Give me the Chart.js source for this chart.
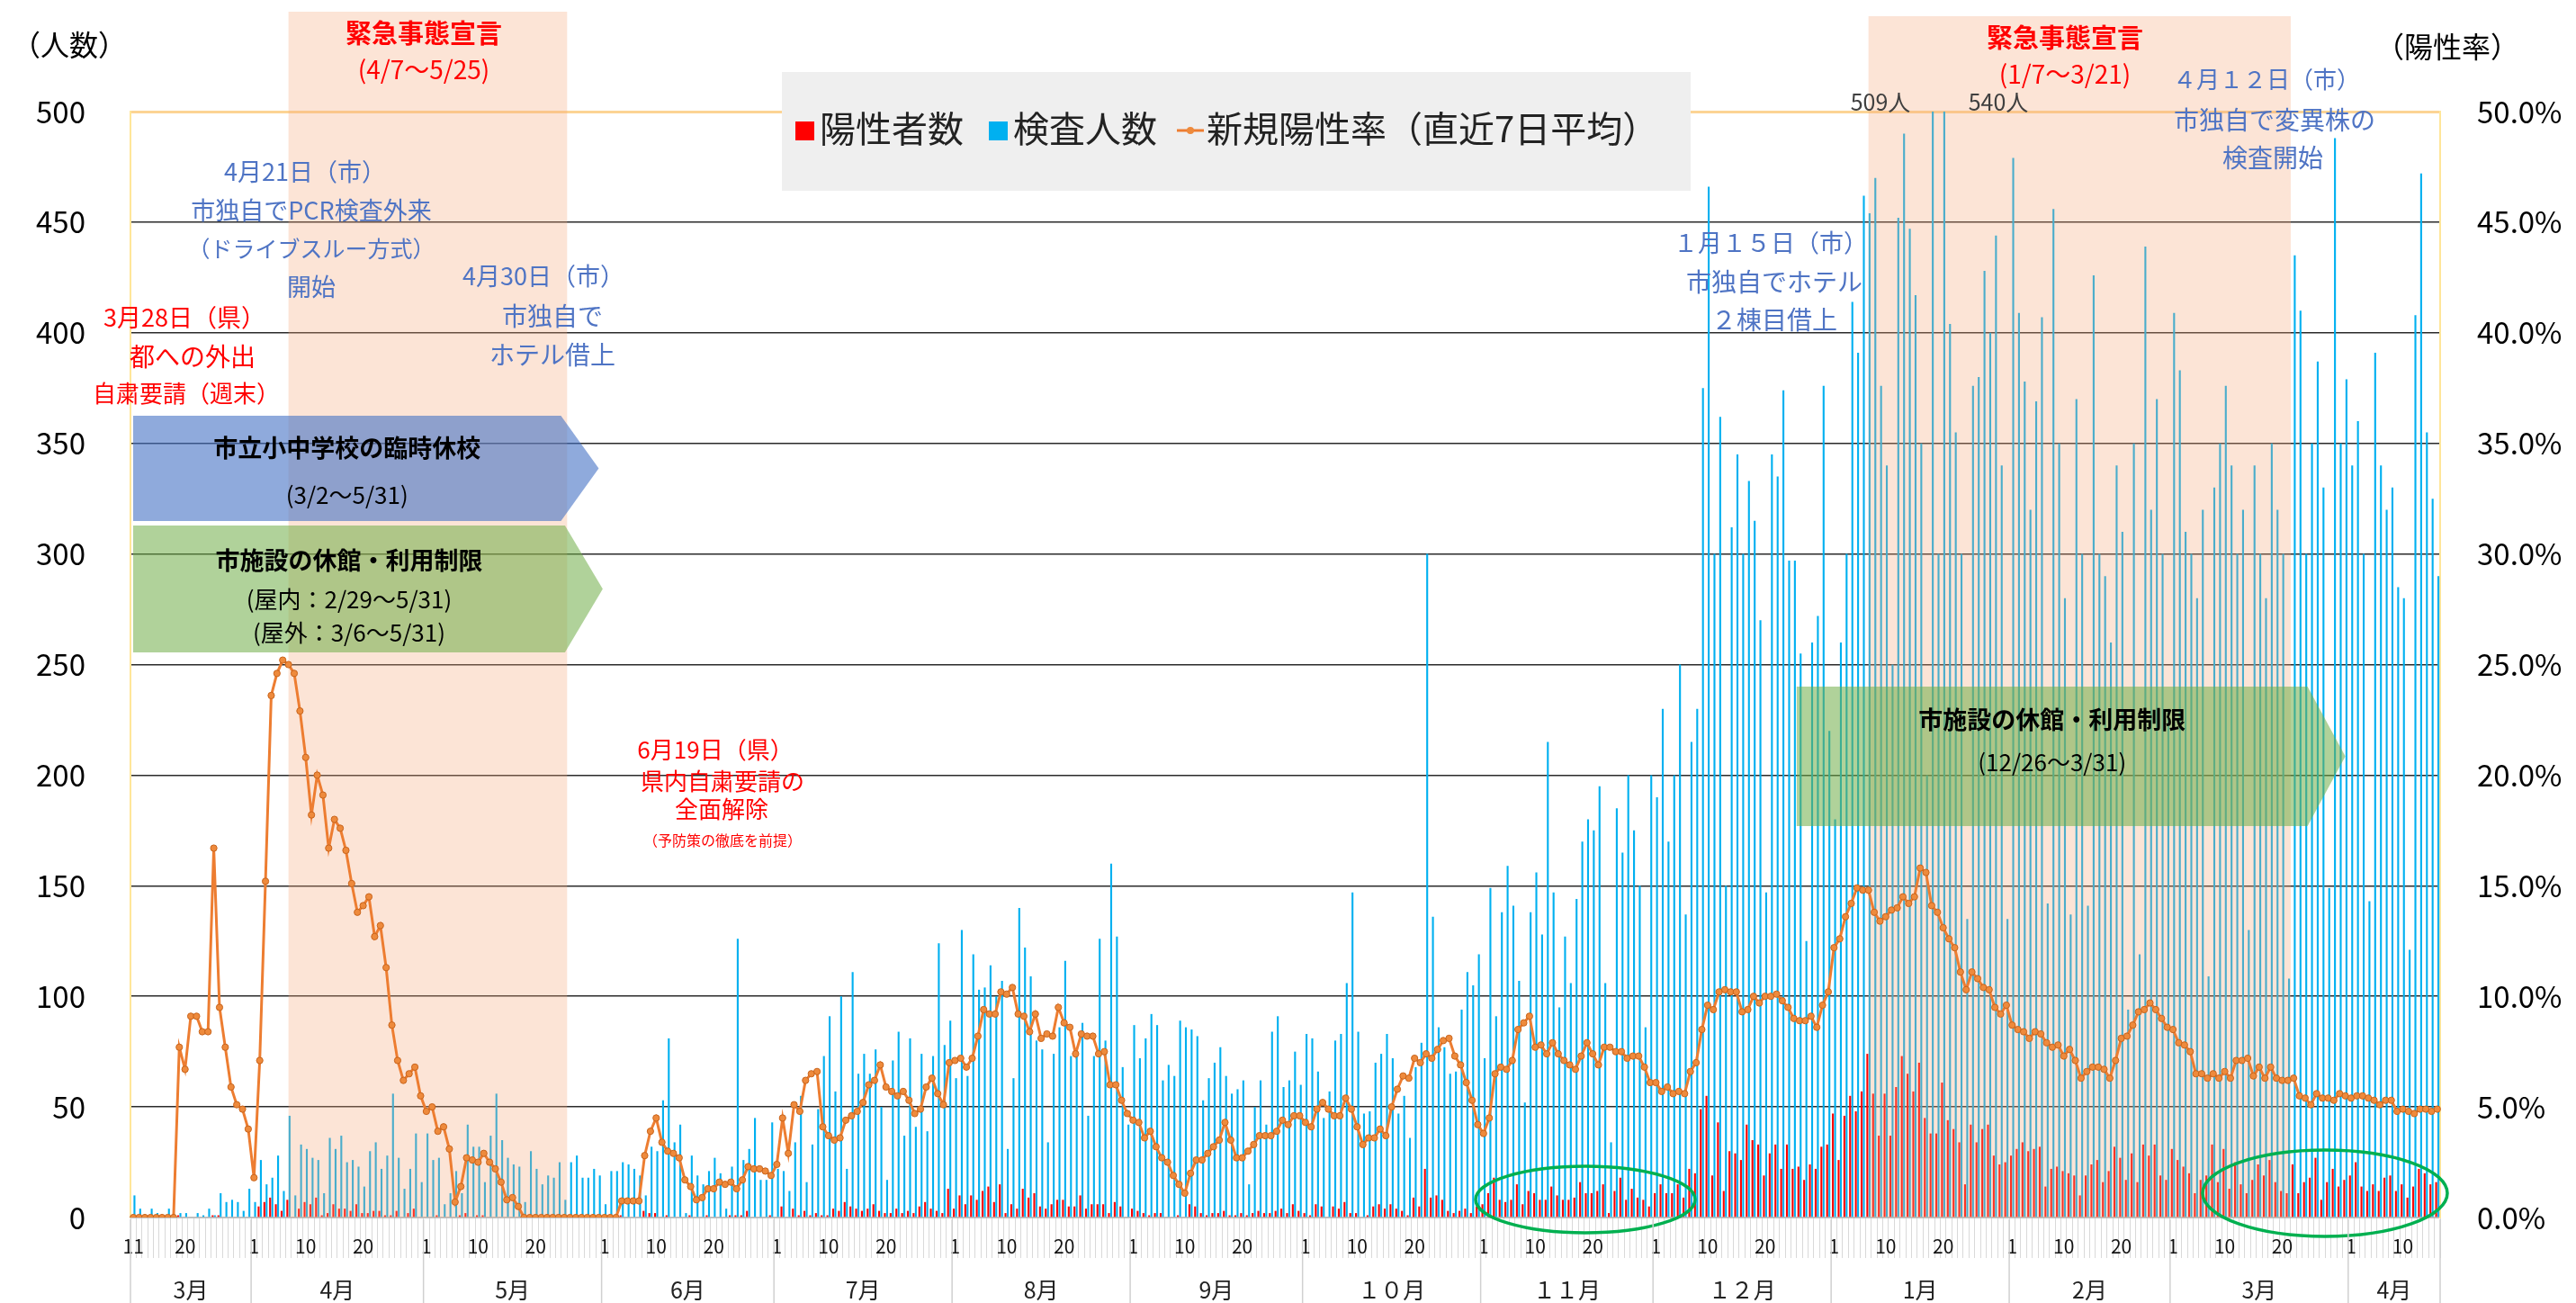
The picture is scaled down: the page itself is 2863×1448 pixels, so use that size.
<!DOCTYPE html>
<html lang="ja">
<head>
<meta charset="utf-8">
<title>陽性者数・検査人数・新規陽性率</title>
<script src="https://cdn.jsdelivr.net/npm/chart.js@4.4.1/dist/chart.umd.min.js"></script>
<style>
  html, body { margin: 0; padding: 0; background: #fff; }
  #wrap { width: 2863px; height: 1448px; position: relative; }
</style>
</head>
<body>
<div id="wrap"><canvas id="covidChart"></canvas></div>
<script>
// --- data (one value per day, from 2020-03-11) ---
const startDate = [2020, 2, 11]; // year, month index, day

const monthLabels = ['3月', '4月', '5月', '6月', '7月', '8月', '9月', '１０月', '１１月', '１２月', '1月', '2月', '3月', '4月'];

// 陽性者数 (人)
const positives = [
  0,0,0,0,0,0,0,0,1,0,  0,0,0,0,1,1,0,0,0,0,
  0,0,5,7,9,6,3,8,0,4,  7,6,9,1,2,6,4,4,3,6,
  2,2,3,3,1,1,3,0,2,4,  0,0,0,1,0,0,0,1,2,0,
  1,1,0,0,0,0,0,0,0,0,  0,0,0,0,0,0,0,0,0,0,
  0,0,0,0,0,1,0,0,0,3,  2,2,0,1,0,0,0,1,0,0,
  1,0,0,0,1,1,1,3,0,0,  0,1,0,5,0,4,1,3,1,2,
  1,1,4,3,7,5,4,3,4,6,  3,2,2,4,2,3,2,5,7,4,
  3,2,13,4,10,6,10,8,12,14,  7,15,2,6,4,13,9,11,5,4,
  6,8,8,5,5,10,4,6,6,6,  2,7,5,0,4,3,2,1,2,2,
  0,0,1,0,6,5,2,1,2,2,  3,1,1,2,1,2,3,2,2,3,
  4,2,6,3,2,1,6,5,0,5,  4,7,2,2,0,1,5,6,4,6,
  4,3,1,9,5,22,9,10,8,3,  2,3,4,2,5,6,11,18,8,7,
  8,15,6,12,11,8,8,14,10,8,  8,9,16,11,11,12,15,2,12,18,
  8,13,9,8,5,11,15,11,11,15,  9,22,20,49,55,19,43,12,30,29,
  26,42,35,33,19,29,33,22,33,22,  23,17,24,22,32,33,47,26,46,55,
  48,57,74,56,37,56,37,59,73,65,  57,70,45,38,38,61,44,40,34,15,
  42,34,40,42,28,24,25,28,31,34,  30,31,32,14,22,23,21,20,19,10,
  19,24,26,16,21,32,27,17,29,16,  33,28,33,19,17,31,26,23,20,11,
  17,19,33,16,31,13,25,15,11,17,  24,19,26,16,12,11,24,11,16,18,
  27,8,16,22,14,17,19,25,14,12,  15,12,18,19,12,15,9,14,22,20,
  15,16
];

// 検査人数 (人)
const tests = [
  10,4,0,4,2,1,4,0,2,2,  0,2,1,4,1,11,7,8,7,3,
  13,7,26,15,18,28,12,46,10,33,  31,27,26,11,36,31,37,25,26,23,
  14,30,34,22,28,56,27,13,22,38,  16,38,26,27,6,11,21,11,42,32,
  32,16,37,56,35,27,24,23,7,30,  22,15,19,18,25,8,25,28,18,18,
  22,19,6,21,21,25,24,22,19,10,  32,30,53,81,34,42,2,28,19,15,
  21,27,20,4,23,126,26,31,45,17,  17,43,22,21,12,34,55,16,33,49,
  73,91,57,100,22,111,65,74,65,76,  50,17,71,84,37,81,41,74,39,73,
  124,78,89,63,130,64,119,103,104,114,  100,107,31,63,140,122,109,80,76,34,
  74,86,116,73,73,88,46,73,126,80,  160,127,68,42,87,72,81,92,87,62,
  69,64,89,86,85,82,53,63,70,77,  64,56,58,62,15,50,62,42,84,91,
  59,62,75,60,83,81,66,45,57,80,  83,106,147,84,47,48,70,74,83,72,
  47,55,36,68,79,300,136,86,77,65,  66,94,111,105,119,72,149,91,138,159,
  141,107,52,138,156,128,215,147,95,127,  106,144,170,180,175,195,106,34,185,165,
  200,175,150,86,200,190,230,170,200,250,  137,215,230,375,466,300,362,150,312,345,
  300,333,315,270,147,345,335,374,297,297,  255,125,260,272,376,220,180,260,300,414,
  391,462,454,470,376,340,250,452,490,447,  417,350,200,509,300,540,404,355,300,135,
  376,380,428,400,444,340,135,479,409,378,  320,369,407,142,456,350,280,137,370,300,
  141,426,300,290,260,340,310,94,350,119,  439,320,370,300,230,409,383,310,300,280,
  320,109,330,350,376,340,300,320,130,340,  300,280,350,320,300,108,435,410,300,350,
  387,330,149,488,350,379,340,360,300,143,  391,340,320,330,285,280,121,408,472,355,
  325,290
];

// 新規陽性率（直近7日平均） (%)
const rate = [
  0,0,0,0,0,0,0,0,7.7,6.7,  9.1,9.1,8.4,8.4,16.7,9.5,7.7,5.9,5.1,4.9,
  4.0,1.8,7.1,15.2,23.6,24.6,25.2,25.0,24.6,22.9,  20.8,18.2,20.0,19.1,16.7,18.0,17.6,16.6,15.1,13.8,
  14.1,14.5,12.7,13.2,11.3,8.7,7.1,6.2,6.5,6.8,  5.5,4.8,5.0,3.9,4.1,3.1,0.7,1.4,2.7,2.6,
  2.5,2.9,2.5,2.2,1.6,0.8,0.9,0.5,0,0,  0,0,0,0,0,0,0,0,0,0,
  0,0,0,0,0,0.75,0.75,0.75,0.75,2.8,  3.9,4.5,3.4,3.0,2.9,2.7,1.7,1.4,0.8,0.9,
  1.3,1.3,1.6,1.5,1.6,1.3,1.7,2.3,2.2,2.2,  2.1,1.9,2.4,4.5,2.9,5.1,4.8,6.2,6.5,6.6,
  4.1,3.7,3.5,3.6,4.4,4.6,4.8,5.2,6.0,6.2,  6.9,5.9,5.7,5.5,5.7,5.3,4.7,4.9,5.9,6.3,
  5.6,5.1,7.0,7.1,7.2,6.8,7.2,8.2,9.4,9.2,  9.2,10.2,10.1,10.4,9.2,9.1,8.4,9.2,8.1,8.3,
  8.2,9.5,8.8,8.6,7.4,8.3,8.2,8.2,7.4,7.5,  6.0,6.0,5.3,4.7,4.4,4.3,3.6,3.9,3.2,2.7,
  2.5,1.9,1.5,1.1,2.0,2.6,2.6,2.9,3.2,3.5,  4.3,3.5,2.7,2.7,3.0,3.3,3.7,3.7,3.7,3.9,
  4.4,4.2,4.6,4.6,4.3,4.1,4.9,5.2,4.9,4.6,  4.6,5.4,4.9,4.1,3.3,3.6,3.6,4.0,3.7,5.0,
  5.8,6.4,6.3,7.2,7.0,7.4,7.2,7.6,8.0,8.1,  7.3,6.9,6.1,5.3,4.2,3.8,4.5,6.5,6.8,6.7,
  7.1,8.5,8.8,9.1,7.7,7.8,7.4,7.9,7.4,7.1,  6.9,6.7,7.3,7.9,7.4,6.9,7.7,7.7,7.5,7.5,
  7.2,7.3,7.3,6.8,6.1,6.1,5.7,5.9,5.6,5.7,  5.6,6.6,7.0,8.5,9.6,9.4,10.2,10.3,10.2,10.2,
  9.3,9.4,10.0,9.7,10.0,10.0,10.1,9.8,9.5,9.0,  8.9,8.9,9.1,8.6,9.6,10.2,12.2,12.6,13.6,14.2,
  14.9,14.8,14.8,13.8,13.4,13.6,13.9,14.0,14.5,14.2,  14.5,15.8,15.6,14.1,13.8,13.1,12.6,12.2,11.1,10.3,
  11.1,10.8,10.4,10.3,9.5,9.2,9.6,8.7,8.5,8.4,  8.1,8.4,8.3,7.9,7.7,7.8,7.3,7.6,7.1,6.3,
  6.6,6.8,6.8,6.7,6.3,7.1,8.1,8.2,8.7,9.3,  9.4,9.7,9.4,9.0,8.6,8.5,7.9,7.8,7.5,6.5,
  6.5,6.3,6.5,6.3,6.6,6.3,7.1,7.1,7.2,6.4,  6.8,6.3,6.8,6.3,6.2,6.2,6.3,5.5,5.4,5.1,
  5.6,5.4,5.4,5.3,5.6,5.5,5.4,5.5,5.5,5.4,  5.3,5.1,5.3,5.3,4.8,4.9,4.8,4.7,4.9,4.9,
  4.8,4.9
];

// --- build the day categories ---
const dates = [];
for (let i = 0; i < tests.length; i++) {
  dates.push(new Date(startDate[0], startDate[1], startDate[2] + i));
}
const labels = dates.map(d => (d.getMonth() + 1) + '/' + d.getDate());

function dayIndex(y, m, d) {
  const t = new Date(y, m - 1, d);
  return Math.round((t - dates[0]) / 86400000);
}

// month groups for the second label row
const monthGroups = [];
dates.forEach((d, i) => {
  const key = d.getFullYear() * 12 + d.getMonth();
  const last = monthGroups[monthGroups.length - 1];
  if (!last || last.key !== key) monthGroups.push({ key: key, first: i, last: i });
  else last.last = i;
});

const RED = '#ff0000';
const BLUE_TXT = '#4f74c4';
const JP = "'Noto Sans CJK JP', 'Noto Sans', sans-serif";

// 緊急事態宣言 periods
const emergencyBands = [
  { from: dayIndex(2020, 4, 7), to: dayIndex(2020, 5, 25), top: 13 },
  { from: dayIndex(2021, 1, 7), to: dayIndex(2021, 3, 21), top: 18 }
];

// arrows (period bars)
const arrows = [
  { from: 0, to: dayIndex(2020, 5, 31), top: 462, bottom: 579, fill: 'rgba(68,114,196,0.6)',
    lines: [['市立小中学校の臨時休校', 'bold 27px', 498], ['(3/2～5/31)', '26px', 550]] },
  { from: 0, to: dayIndex(2020, 5, 31) + 0.7, top: 584, bottom: 725, fill: 'rgba(112,173,71,0.55)',
    lines: [['市施設の休館・利用制限', 'bold 27px', 623], ['(屋内：2/29～5/31)', '26px', 666], ['(屋外：3/6～5/31)', '26px', 703]] },
  { from: dayIndex(2020, 12, 26), to: dayIndex(2021, 3, 31), top: 763, bottom: 918, fill: 'rgba(112,173,71,0.55)',
    lines: [['市施設の休館・利用制限', 'bold 27px', 800], ['(12/26～3/31)', '26px', 847]] }
];

// free text notes [text, x, y, font, colour]
const notes = [
  ['緊急事態宣言', 471, 37, 'bold 29px', RED],
  ['(4/7～5/25)', 471, 77, '28px', RED],
  ['緊急事態宣言', 2295, 42, 'bold 29px', RED],
  ['(1/7～3/21)', 2295, 82, '28px', RED],
  ['4月21日（市）', 339, 191, '27px', BLUE_TXT],
  ['市独自でPCR検査外来', 346, 234, '27px', BLUE_TXT],
  ['（ドライブスルー方式）', 346, 276, '25px', BLUE_TXT],
  ['開始', 346, 319, '27px', BLUE_TXT],
  ['4月30日（市）', 604, 307, '27px', BLUE_TXT],
  ['市独自で', 614, 351, '28px', BLUE_TXT],
  ['ホテル借上', 614, 394, '28px', BLUE_TXT],
  ['3月28日（県）', 205, 353, '27px', RED],
  ['都への外出', 214, 396, '28px', RED],
  ['自粛要請（週末）', 207, 437, '26px', RED],
  ['6月19日（県）', 795, 833, '26px', RED],
  ['県内自粛要請の', 803, 868, '26px', RED],
  ['全面解除', 802, 899, '26px', RED],
  ['（予防策の徹底を前提）', 803, 934, '16px', RED],
  ['１月１５日（市）', 1968, 270, '27px', BLUE_TXT],
  ['市独自でホテル', 1972, 313, '28px', BLUE_TXT],
  ['２棟目借上', 1972, 355, '28px', BLUE_TXT],
  ['509人', 2090, 113, '25px', '#404040'],
  ['540人', 2221, 113, '25px', '#404040'],
  ['４月１２日（市）', 2519, 88, '26px', BLUE_TXT],
  ['市独自で変異株の', 2528, 133, '28px', BLUE_TXT],
  ['検査開始', 2526, 175, '28px', BLUE_TXT],
  ['（人数）', 77, 50, '32px', '#000'],
  ['（陽性率）', 2720, 52, '32px', '#000']
];

// ellipses [cx, cy, rx, ry]
const ellipses = [
  [1762, 1333, 122, 37],
  [2584, 1326, 136, 48]
];

function text(ctx, t, x, y, font, color, align) {
  ctx.font = font + ' ' + JP;
  ctx.fillStyle = color;
  ctx.textAlign = align || 'center';
  ctx.textBaseline = 'middle';
  ctx.fillText(t, x, y);
}

const decorations = {
  id: 'decorations',
  beforeDatasetDraw(chart, args) {
    if (args.index !== 2) return; // just before the rate line
    const { ctx, chartArea, scales: { x } } = chart;
    const slot = x.getPixelForValue(1) - x.getPixelForValue(0);
    ctx.save();
    ctx.fillStyle = 'rgba(244,164,120,0.3)';
    emergencyBands.forEach(b => {
      const x0 = x.getPixelForValue(b.from);
      const x1 = x.getPixelForValue(b.to) + slot / 2;
      ctx.fillRect(x0, b.top, x1 - x0, chartArea.bottom - b.top);
    });
    ctx.restore();
  },
  afterDatasetsDraw(chart) {
    const { ctx, chartArea, scales: { x } } = chart;
    const slot = x.getPixelForValue(1) - x.getPixelForValue(0);
    ctx.save();
    arrows.forEach(a => {
      const x0 = Math.max(x.getPixelForValue(a.from) - slot / 2, chartArea.left + 3);
      const tip = x.getPixelForValue(Math.floor(a.to)) + (a.to % 1) * slot;
      const x1 = tip - 42;
      const mid = (a.top + a.bottom) / 2;
      ctx.beginPath();
      ctx.moveTo(x0, a.top);
      ctx.lineTo(x1, a.top);
      ctx.lineTo(tip, mid);
      ctx.lineTo(x1, a.bottom);
      ctx.lineTo(x0, a.bottom);
      ctx.closePath();
      ctx.fillStyle = a.fill;
      ctx.fill();
      const cx = (x0 + x1) / 2;
      a.lines.forEach(l => text(ctx, l[0], cx, l[2], l[1], '#000'));
    });
    ctx.strokeStyle = '#00b050';
    ctx.lineWidth = 3.5;
    ellipses.forEach(e => {
      ctx.beginPath();
      ctx.ellipse(e[0], e[1], e[2], e[3], 0, 0, Math.PI * 2);
      ctx.stroke();
    });
    ctx.restore();
  },
  afterDraw(chart) {
    const { ctx, chartArea, scales: { x } } = chart;
    const slot = x.getPixelForValue(1) - x.getPixelForValue(0);
    ctx.save();
    // month row
    ctx.strokeStyle = '#d0d0d0';
    ctx.lineWidth = 1.5;
    monthGroups.forEach((g, k) => {
      const left = x.getPixelForValue(g.first) - slot / 2;
      const right = x.getPixelForValue(g.last) + slot / 2;
      ctx.beginPath();
      ctx.moveTo(left, chartArea.bottom + 2);
      ctx.lineTo(left, chart.height);
      if (k === monthGroups.length - 1) {
        ctx.moveTo(right, chartArea.bottom + 2);
        ctx.lineTo(right, chart.height);
      }
      ctx.stroke();
      text(ctx, monthLabels[k], (left + right) / 2, 1433, '25px', '#222');
    });
    // legend box
    ctx.fillStyle = '#efefef';
    ctx.fillRect(869, 80, 1010, 132);
    ctx.fillStyle = RED;
    ctx.fillRect(884, 135, 21, 21);
    text(ctx, '陽性者数', 911, 143, '40px', '#222', 'left');
    ctx.fillStyle = '#00b0f0';
    ctx.fillRect(1099, 135, 21, 21);
    text(ctx, '検査人数', 1126, 143, '40px', '#222', 'left');
    ctx.strokeStyle = '#ed7d31';
    ctx.lineWidth = 3;
    ctx.beginPath();
    ctx.moveTo(1308, 145);
    ctx.lineTo(1338, 145);
    ctx.stroke();
    ctx.fillStyle = '#ee8a3c';
    ctx.beginPath();
    ctx.arc(1323, 145, 4, 0, Math.PI * 2);
    ctx.fill();
    text(ctx, '新規陽性率（直近7日平均）', 1341, 143, '40px', '#222', 'left');
    // notes
    notes.forEach(n => text(ctx, n[0], n[1], n[2], n[3], n[4]));
    ctx.restore();
  }
};

Chart.defaults.font.family = JP;
Chart.defaults.color = '#000';

const ctx = document.getElementById('covidChart').getContext('2d');
new Chart(ctx, {
  type: 'bar',
  data: {
    labels: labels,
    datasets: [
      {
        label: '陽性者数',
        data: positives,
        backgroundColor: RED,
        yAxisID: 'y',
        order: 1,
        categoryPercentage: 0.78,
        barPercentage: 0.85
      },
      {
        label: '検査人数',
        data: tests,
        backgroundColor: '#00b0f0',
        yAxisID: 'y',
        order: 2,
        categoryPercentage: 0.78,
        barPercentage: 0.85
      },
      {
        type: 'line',
        label: '新規陽性率（直近7日平均）',
        data: rate,
        yAxisID: 'y1',
        order: 0,
        borderColor: '#ed7d31',
        borderWidth: 3,
        pointRadius: 3.6,
        pointBackgroundColor: '#ee8a3c',
        pointBorderColor: '#c8641c',
        pointBorderWidth: 1,
        tension: 0
      }
    ]
  },
  options: {
    responsive: true,
    maintainAspectRatio: false,
    devicePixelRatio: 1,
    animation: false,
    layout: { padding: { top: 124, left: 0, right: 0, bottom: 0 } },
    plugins: {
      legend: { display: false },
      tooltip: { enabled: false }
    },
    scales: {
      x: {
        offset: true,
        grid: {
          offset: true,
          drawOnChartArea: false,
          drawTicks: true,
          tickLength: 45,
          color: '#d9d9d9',
          lineWidth: 1
        },
        border: { display: true, color: '#bfbfbf', width: 2 },
        ticks: {
          autoSkip: false,
          maxRotation: 0,
          minRotation: 0,
          padding: -26,
          font: { size: 21 },
          color: '#111',
          callback: function (value, index) {
            const day = dates[index].getDate();
            if (index === 0) return String(day);
            return (day === 1 || day === 10 || day === 20) ? String(day) : '';
          }
        },
        afterFit(scale) { scale.height = 95; }
      },
      y: {
        position: 'left',
        min: 0,
        max: 500,
        ticks: { stepSize: 50, padding: 50, font: { size: 33 }, color: '#000' },
        grid: {
          drawTicks: false,
          color: c => c.tick.value === 500 ? '#fcd494' : (c.tick.value === 0 ? 'rgba(0,0,0,0)' : '#2b2b2b'),
          lineWidth: c => c.tick.value === 500 ? 3 : 1.5
        },
        border: { color: '#ffe699', width: 2 },
        afterFit(scale) { scale.width = 145; }
      },
      y1: {
        position: 'right',
        min: 0,
        max: 50,
        ticks: {
          stepSize: 5,
          padding: 41,
          font: { size: 33 },
          color: '#000',
          callback: v => v.toFixed(1) + '%'
        },
        grid: { drawOnChartArea: false, drawTicks: false },
        border: { color: '#ffe699', width: 2 },
        afterFit(scale) { scale.width = 151; }
      }
    }
  },
  plugins: [decorations]
});
</script>
</body>
</html>
